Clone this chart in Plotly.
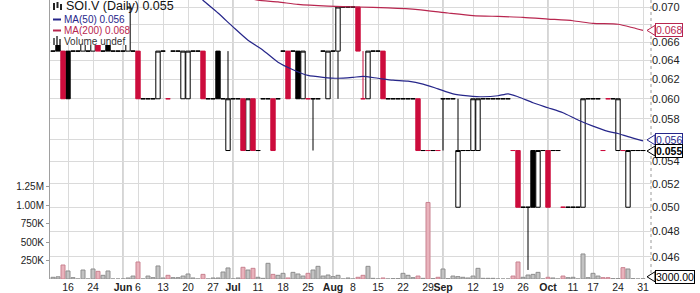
import math
import pandas as pd
import plotly.graph_objects as go

# ---------------- data ----------------
holidays = ["2011-05-23", "2011-07-01", "2011-08-01", "2011-09-05", "2011-10-10"]
dates = [d.strftime("%Y-%m-%d") for d in pd.bdate_range("2011-05-11", "2011-10-31")
         if d.strftime("%Y-%m-%d") not in holidays]

opens = [
    .065, .070, .065, .065, .065, .065, .065, .065, .065, .070,
    .065, .070, .065, .065, .065, .065, .065, .065, .060, .060,
    .060, .060, .065, .060, .065, .065, .060, .060, .065, .065,
    .065, .060, .060, .065, .060, .055, .060, .060, .060, .055,
    .060, .055, .060, .060, .060, .060, .065, .065, .065, .065,
    .060, .060, .060, .060, .065, .060, .065, .065, .070, .070,
    .070, .070, .060, .060, .065, .065, .065, .060, .060, .060,
    .060, .060, .060, .060, .055, .055, .055, .055, .060, .060,
    .060, .050, .055, .055, .055, .055, .060, .060, .060, .060,
    .060, .060, .055, .055, .050, .050, .055, .050, .055, .055,
    .055, .055, .050, .050, .050, .050, .050, .060, .060, .060,
    .055, .060, .060, .055, .055, .050, .055, .055, .055]
highs = [
    .065, .070, .065, .065, .065, .065, .070, .065, .070, .070,
    .065, .070, .065, .065, .065, .070, .065, .065, .060, .060,
    .060, .065, .065, .060, .065, .065, .065, .065, .065, .065,
    .065, .060, .060, .065, .060, .065, .060, .060, .060, .060,
    .060, .055, .060, .060, .060, .060, .065, .065, .065, .065,
    .065, .060, .060, .060, .065, .065, .065, .070, .070, .070,
    .070, .070, .065, .065, .065, .065, .065, .060, .060, .060,
    .060, .060, .060, .060, .055, .055, .055, .055, .060, .060,
    .060, .060, .055, .055, .060, .060, .060, .060, .060, .060,
    .060, .060, .055, .055, .050, .050, .055, .055, .055, .055,
    .055, .055, .050, .050, .050, .050, .060, .060, .060, .060,
    .055, .060, .060, .060, .055, .055, .055, .055, .055]
lows = [
    .065, .065, .060, .060, .065, .065, .065, .065, .065, .065,
    .065, .065, .065, .065, .065, .065, .065, .060, .060, .060,
    .060, .060, .065, .060, .065, .065, .060, .060, .065, .065,
    .060, .060, .060, .060, .060, .055, .060, .060, .055, .055,
    .055, .055, .060, .060, .055, .060, .065, .060, .065, .060,
    .060, .060, .055, .060, .065, .060, .065, .060, .070, .070,
    .070, .065, .060, .060, .065, .065, .060, .060, .060, .060,
    .060, .060, .060, .055, .055, .055, .055, .055, .055, .060,
    .060, .050, .055, .055, .055, .055, .060, .060, .060, .060,
    .060, .060, .055, .050, .050, .045, .050, .050, .055, .050,
    .055, .055, .050, .050, .050, .050, .050, .060, .060, .060,
    .055, .060, .060, .055, .055, .050, .055, .055, .055]
closes = [
    .065, .065, .060, .060, .065, .065, .070, .065, .070, .065,
    .065, .065, .065, .065, .065, .070, .065, .060, .060, .060,
    .060, .065, .065, .060, .065, .065, .065, .065, .065, .065,
    .060, .060, .060, .060, .060, .060, .060, .060, .055, .060,
    .055, .055, .060, .060, .055, .060, .065, .060, .065, .060,
    .065, .060, .060, .060, .065, .065, .065, .070, .070, .070,
    .070, .065, .060, .065, .065, .065, .060, .060, .060, .060,
    .060, .060, .060, .055, .055, .055, .055, .055, .060, .060,
    .060, .055, .055, .055, .060, .060, .060, .060, .060, .060,
    .060, .060, .055, .050, .050, .050, .050, .055, .055, .050,
    .055, .055, .050, .050, .050, .050, .060, .060, .060, .060,
    .055, .060, .060, .060, .055, .055, .055, .055, .055]
# +1 = close at/above previous close (black), -1 = below previous close (red)
change_dir = [
    1, 1, -1, 1, 1, 1, 1, 1, 1, -1,
    1, 1, 1, 1, 1, 1, 1, -1, 1, 1,
    1, 1, 1, -1, 1, 1, 1, 1, 1, 1,
    -1, 1, 1, 1, 1, 1, 1, 1, -1, 1,
    -1, 1, 1, 1, -1, 1, 1, -1, 1, 1,
    1, -1, 1, 1, 1, 1, 1, 1, 1, 1,
    1, -1, -1, 1, 1, 1, -1, 1, 1, 1,
    1, 1, 1, -1, 1, -1, 1, -1, 1, 1,
    1, 1, 1, 1, 1, 1, 1, 1, 1, 1,
    1, 1, -1, -1, 1, 1, 1, 1, 1, -1,
    1, 1, -1, 1, 1, 1, 1, 1, 1, 1,
    -1, -1, 1, 1, -1, 1, 1, 1, 1]
volumes = [
    23000, 30000, 190000, 109000, 18000, 0, 122000, 0, 136000, 104000,
    50000, 109000, 0, 0, 0, 14000, 40000, 231000, 0, 40000,
    18000, 177000, 14000, 50000, 18000, 18000, 40000, 68000, 14000, 0,
    63000, 0, 14000, 14000, 95000, 150000, 0, 14000, 159000, 122000,
    145000, 23000, 9000, 213000, 63000, 50000, 77000, 14000, 90000, 68000,
    40000, 77000, 122000, 172000, 40000, 54000, 32000, 50000, 0, 14000,
    0, 23000, 50000, 172000, 9000, 0, 14000, 0, 5000, 5000,
    77000, 50000, 18000, 40000, 9000, 1040000, 5000, 23000, 136000, 5000,
    40000, 32000, 23000, 14000, 40000, 145000, 9000, 9000, 9000, 0,
    0, 0, 40000, 231000, 23000, 54000, 63000, 90000, 0, 23000,
    14000, 0, 40000, 18000, 23000, 0, 340000, 18000, 77000, 40000,
    18000, 18000, 5000, 5000, 154000, 136000, 5000, 0, 3000]

ma50_dates = ["2011-06-20", "2011-06-23", "2011-06-28", "2011-07-04", "2011-07-07", "2011-07-12",
              "2011-07-15", "2011-07-20", "2011-07-25", "2011-07-28", "2011-08-03", "2011-08-08",
              "2011-08-10", "2011-08-15", "2011-08-18", "2011-08-23", "2011-08-26", "2011-08-31",
              "2011-09-06", "2011-09-09", "2011-09-14", "2011-09-19", "2011-09-21", "2011-09-23",
              "2011-09-28", "2011-10-03", "2011-10-06", "2011-10-12", "2011-10-17", "2011-10-20",
              "2011-10-24", "2011-10-26", "2011-10-31"]
ma50_values = [0.0725, 0.0708, 0.0693, 0.0677, 0.0662, 0.0651,
               0.0638, 0.0630, 0.0624, 0.0622, 0.0621, 0.0622,
               0.0623, 0.0621, 0.0619, 0.0618, 0.0615, 0.0610,
               0.0605, 0.0603, 0.0602, 0.0603, 0.0605, 0.0602,
               0.0596, 0.0591, 0.0586, 0.0579, 0.0573, 0.0568,
               0.0566, 0.0563, 0.0559]
ma200_dates = ["2011-07-07", "2011-07-11", "2011-07-15", "2011-07-21", "2011-07-29", "2011-08-09",
               "2011-08-17", "2011-08-25", "2011-09-02", "2011-09-12", "2011-09-19", "2011-09-26",
               "2011-10-03", "2011-10-11", "2011-10-17", "2011-10-24", "2011-10-27", "2011-10-31"]
ma200_values = [0.0711, 0.0708, 0.0706, 0.0703, 0.0701, 0.0700,
                0.0699, 0.0697, 0.0693, 0.0690, 0.0689, 0.0688,
                0.0686, 0.0684, 0.0681, 0.0680, 0.0676, 0.0673]

tick_dates = ["2011-05-16", "2011-05-24", "2011-06-01", "2011-06-06", "2011-06-13", "2011-06-20",
              "2011-06-27", "2011-07-04", "2011-07-11", "2011-07-18", "2011-07-25", "2011-08-02",
              "2011-08-08", "2011-08-15", "2011-08-22", "2011-08-29", "2011-09-01", "2011-09-12",
              "2011-09-19", "2011-09-26", "2011-10-03", "2011-10-11", "2011-10-17", "2011-10-24",
              "2011-10-31"]
tick_labels = ["16", "24", "Jun", "6", "13", "20", "27", "Jul", "11", "18", "25", "Aug",
               "8", "15", "22", "29", "Sep", "12", "19", "26", "Oct", "11", "17", "24", "31"]
month_labels = ["Jun", "Jul", "Aug", "Sep", "Oct"]

price_ticks = [0.046, 0.048, 0.050, 0.052, 0.054, 0.056, 0.058, 0.060, 0.062, 0.064, 0.066, 0.068, 0.070]
price_tick_labels = ["0.046", "0.048", "0.050", "0.052", "0.054", "0.056", "0.058",
                     "0.060", "0.062", "0.064", "0.066", "0.068", "0.070"]
vol_ticks = [250000, 500000, 750000, 1000000, 1250000]
vol_tick_labels = ["250K", "500K", "750K", "1.00M", "1.25M"]

title_text = "SOI.V (Daily) 0.055"
ma50_text = "MA(50) 0.056"
ma200_text = "MA(200) 0.068"
vol_text = "Volume undef"
last_close = 0.055
last_volume = 3000
tags = [  # (text, value)
    ("0.068", ma200_values[-1]),
    ("0.056", ma50_values[-1]),
    ("0.055", last_close),
]

# ---------------- styling / layout ----------------
W, H = 700, 293
ML, MR, MT, MB = 50, 49, 0, 14
PW = W - ML - MR
PH = H - MT - MB
FONT = "Liberation Sans, Arial, sans-serif"
RED = "#cc0c3c"
BLACK = "#000000"
NAVY = "#26268a"
CRIMSON = "#b8264f"
PRICE_LO, PRICE_HI = math.log10(0.04432), math.log10(0.07083)
VOL_TOP = 3.79e6


def px(x):
    return (x - ML) / PW


def py(y):
    return 1 - (y - MT) / PH


def price_paper(v):
    return (math.log10(v) - PRICE_LO) / (PRICE_HI - PRICE_LO)


pos = {d: k for k, d in enumerate(dates)}
xs = list(range(len(dates)))

# tick labels hidden behind the value tags
tag_texts = [t for t, _ in tags]
shown_price_labels = ["" if lab in tag_texts else lab for lab in price_tick_labels]

fig = go.Figure()

# volume bars
fig.add_trace(go.Bar(
    x=xs, y=volumes, yaxis="y", width=0.8,
    marker=dict(color=["#e9b3bc" if d < 0 else "#c3c3c3" for d in change_dir],
                line=dict(color=["#c98290" if d < 0 else "#8e8e8e" for d in change_dir], width=1)),
    showlegend=False, hoverinfo="skip"))

# candles (split by colour)
for sign, col in [(1, BLACK), (-1, RED)]:
    idx = [k for k in xs if change_dir[k] == sign]
    fig.add_trace(go.Candlestick(
        x=idx,
        open=[opens[k] for k in idx], high=[highs[k] for k in idx],
        low=[lows[k] for k in idx], close=[closes[k] for k in idx],
        increasing=dict(line=dict(color=col, width=1), fillcolor="white"),
        decreasing=dict(line=dict(color=col, width=1), fillcolor=col),
        whiskerwidth=0, yaxis="y2", showlegend=False, hoverinfo="skip"))

# moving averages
fig.add_trace(go.Scatter(x=[pos[d] for d in ma50_dates], y=ma50_values, yaxis="y2",
                         mode="lines", line=dict(color=NAVY, width=1.2, shape="spline", smoothing=0.6),
                         showlegend=False, hoverinfo="skip"))
fig.add_trace(go.Scatter(x=[pos[d] for d in ma200_dates], y=ma200_values, yaxis="y2",
                         mode="lines", line=dict(color=CRIMSON, width=1.2, shape="spline", smoothing=0.6),
                         showlegend=False, hoverinfo="skip"))

shapes = []
# darker month separators
for d, lab in zip(tick_dates, tick_labels):
    if lab in month_labels:
        shapes.append(dict(type="line", xref="x", yref="paper", x0=pos[d], x1=pos[d], y0=0, y1=1,
                           line=dict(color="#ababab", width=1), layer="below"))
# right border (dotted)
shapes.append(dict(type="line", xref="paper", yref="paper", x0=1, x1=1, y0=0, y1=1,
                   line=dict(color="#9a9a9a", width=1, dash="dot")))
# legend background
shapes.append(dict(type="rect", xref="paper", yref="paper", x0=px(50.5), x1=px(127), y0=py(45), y1=py(0),
                   fillcolor="white", line=dict(width=0), layer="above"))
# legend icons
shapes.append(dict(type="line", xref="paper", yref="paper", x0=px(53), x1=px(61), y0=py(19.5), y1=py(19.5),
                   line=dict(color=NAVY, width=2), layer="above"))
shapes.append(dict(type="line", xref="paper", yref="paper", x0=px(53), x1=px(61), y0=py(30.5), y1=py(30.5),
                   line=dict(color=CRIMSON, width=2), layer="above"))
for (a, b, top) in [(53, 55, 38), (56, 58, 36), (59, 61, 39)]:
    shapes.append(dict(type="rect", xref="paper", yref="paper", x0=px(a), x1=px(b), y0=py(45), y1=py(top),
                       fillcolor="#666666", line=dict(width=0), layer="above"))
for (a, b, t0, t1) in [(53, 55, 3, 10), (56.5, 58.5, 2, 8), (60, 62, 4, 10)]:
    shapes.append(dict(type="rect", xref="paper", yref="paper", x0=px(a), x1=px(b), y0=py(t1), y1=py(t0),
                       fillcolor="#222222", line=dict(width=0), layer="above"))

annotations = [
    dict(text=title_text, xref="paper", yref="paper", x=px(64), y=py(6), xanchor="left", yanchor="middle",
         showarrow=False, font=dict(family=FONT, size=12.5, color="#111111")),
    dict(text=ma50_text, xref="paper", yref="paper", x=px(62), y=py(19.5), xanchor="left", yanchor="middle",
         showarrow=False, font=dict(family=FONT, size=10, color=NAVY)),
    dict(text=ma200_text, xref="paper", yref="paper", x=px(62), y=py(30.5), xanchor="left", yanchor="middle",
         showarrow=False, font=dict(family=FONT, size=10, color=CRIMSON)),
    dict(text=vol_text, xref="paper", yref="paper", x=px(62), y=py(41.5), xanchor="left", yanchor="middle",
         showarrow=False, font=dict(family=FONT, size=10, color="#333333")),
]

tag_colors = [CRIMSON, NAVY, BLACK]
tag_nudge = [0, 1.0, -0.5]  # small pixel nudges so adjacent tags do not collide
for (txt, val), col, nud in zip(tags, tag_colors, tag_nudge):
    yp = price_paper(val) + nud / PH
    bold = col == BLACK
    annotations.append(dict(text=f"<b>{txt}</b>" if bold else txt, xref="paper", yref="paper",
                            x=1, y=yp, xanchor="left", yanchor="middle", xshift=4, showarrow=False,
                            bgcolor="white", bordercolor=col, borderwidth=1, borderpad=0,
                            font=dict(family=FONT, size=10.5, color=col)))
    hh = 5 / PH
    shapes.append(dict(type="path", xref="paper", yref="paper",
                       path=f"M {px(647)},{yp} L {px(655)},{yp + hh} L {px(655)},{yp - hh} Z",
                       fillcolor="white", line=dict(color=col, width=1)))
vy = last_volume / VOL_TOP
annotations.append(dict(text=f"{last_volume:.2f}", xref="paper", yref="paper", x=1, y=vy + 2 / PH,
                        xanchor="left", yanchor="middle", xshift=4, showarrow=False,
                        bgcolor="white", bordercolor=BLACK, borderwidth=1, borderpad=0,
                        font=dict(family=FONT, size=10.5, color=BLACK)))
shapes.append(dict(type="path", xref="paper", yref="paper",
                   path=f"M {px(647)},{vy + 2 / PH} L {px(655)},{vy + 7 / PH} L {px(655)},{vy - 3 / PH} Z",
                   fillcolor="white", line=dict(color=BLACK, width=1)))

fig.update_layout(
    width=W, height=H,
    margin=dict(l=ML, r=MR, t=MT, b=MB, autoexpand=False),
    paper_bgcolor="white", plot_bgcolor="white",
    font=dict(family=FONT, size=10, color="#222222"),
    boxgap=0.12, boxgroupgap=0,
    showlegend=False,
    xaxis=dict(range=[-0.6, len(dates) + 0.6], rangeslider=dict(visible=False),
               tickmode="array", tickvals=[pos[d] for d in tick_dates],
               ticktext=[f"<b>{t}</b>" if t in month_labels else t for t in tick_labels],
               tickangle=0, automargin=False,
               showgrid=True, gridcolor="#dadada", gridwidth=1, zeroline=False,
               ticks="", tickfont=dict(family=FONT, size=10.5, color="#222222"),
               showline=False, fixedrange=True),
    yaxis=dict(range=[0, VOL_TOP], side="left", tickmode="array", tickvals=vol_ticks,
               ticktext=vol_tick_labels, showgrid=False, zeroline=False, automargin=False,
               ticks="outside", ticklen=3, tickcolor="#999999",
               tickfont=dict(family=FONT, size=10, color="#222222"),
               showline=True, linecolor="#a0a0a0", linewidth=1),
    yaxis2=dict(type="log", range=[PRICE_LO, PRICE_HI], side="right", overlaying="y",
                tickmode="array", tickvals=price_ticks, ticktext=shown_price_labels,
                automargin=False,
                showgrid=True, gridcolor="#dadada", gridwidth=1, zeroline=False, ticks="",
                tickfont=dict(family=FONT, size=11, color="#222222")),
    shapes=shapes,
    annotations=annotations,
)

fig.write_html("out.html")
